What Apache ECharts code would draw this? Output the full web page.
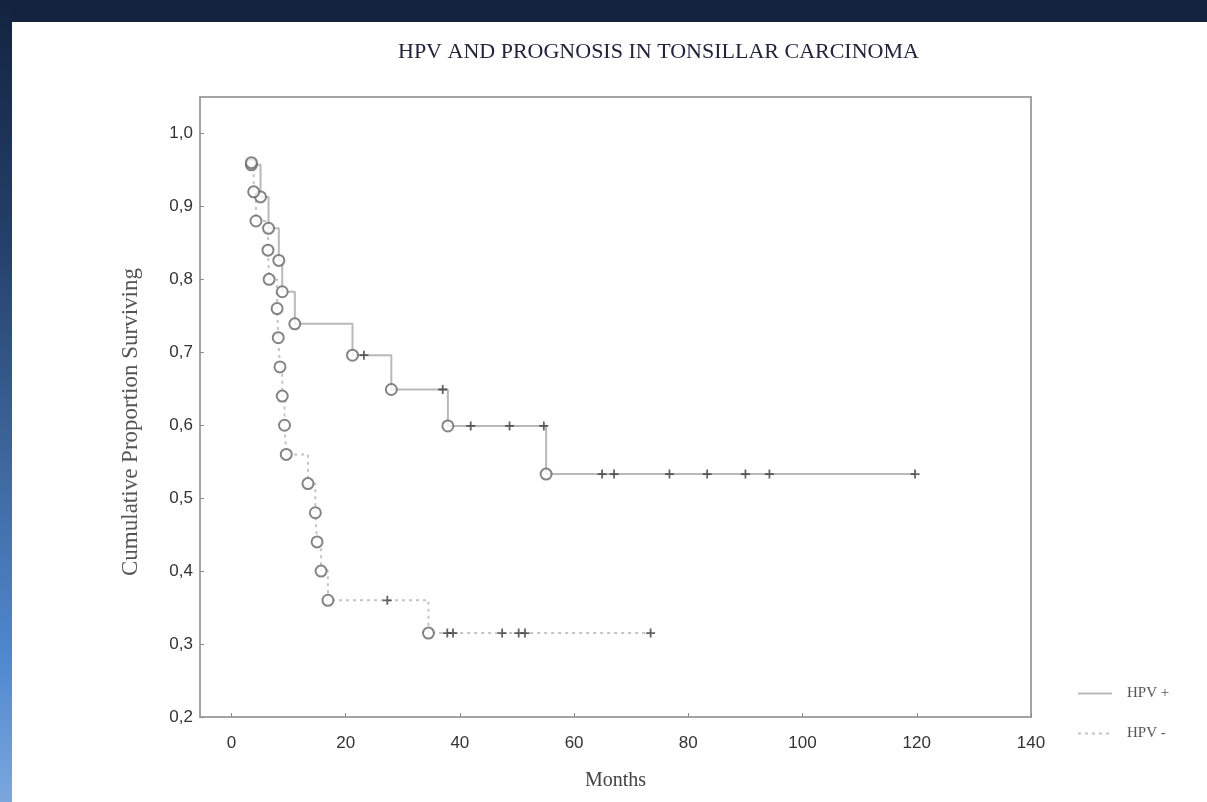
<!DOCTYPE html>
<html>
<head>
<meta charset="utf-8">
<title>HPV and prognosis in tonsillar carcinoma</title>
<script src="https://cdn.jsdelivr.net/npm/echarts@6/dist/echarts.min.js"></script>
<style>
  html, body { margin: 0; padding: 0; width: 1207px; height: 802px; overflow: hidden; background: #13233f; }
  #strip { position: absolute; left: 0; top: 0; width: 12px; height: 802px;
           background: linear-gradient(to bottom, #13233f 0%, #24406a 30%, #3c6398 55%, #4f88cf 82%, #7ba7de 100%); }
  #chart { position: absolute; left: 12px; top: 22px; width: 1195px; height: 780px; background: #ffffff; }
</style>
</head>
<body>
<div id="strip"></div>
<div id="chart"></div>
<script>
// Kaplan-Meier survival, HPV positive group: event times (months) and survival after each death
const hpvPosDeathTime = [3.5, 5.1, 6.5, 8.3, 8.9, 11.1, 21.2, 28.0, 37.9, 55.1];
const hpvPosDeathSurv = [0.957, 0.913, 0.870, 0.826, 0.783, 0.739, 0.696, 0.649, 0.599, 0.533];
// HPV positive censored observations (months)
const hpvPosCensorTime = [23.2, 37.0, 41.9, 48.7, 54.7, 64.9, 67.0, 76.7, 83.3, 90.0, 94.2, 119.7];

// HPV negative group
const hpvNegDeathTime = [3.5, 3.9, 4.3, 6.4, 6.6, 8.0, 8.2, 8.5, 8.9, 9.3, 9.6, 13.4, 14.7, 15.0, 15.7, 16.9, 34.5];
const hpvNegDeathSurv = [0.96, 0.92, 0.88, 0.84, 0.80, 0.76, 0.72, 0.68, 0.64, 0.60, 0.56, 0.52, 0.48, 0.44, 0.40, 0.36, 0.315];
const hpvNegCensorTime = [27.3, 37.8, 38.8, 47.4, 50.3, 51.4, 73.4];

// Axis ticks and their labels
const xTicks = [0, 20, 40, 60, 80, 100, 120, 140];
const xTickLabels = ['0', '20', '40', '60', '80', '100', '120', '140'];
const yTicks = [0.2, 0.3, 0.4, 0.5, 0.6, 0.7, 0.8, 0.9, 1.0];
const yTickLabels = ['0,2', '0,3', '0,4', '0,5', '0,6', '0,7', '0,8', '0,9', '1,0'];

const chartTitle = 'HPV AND PROGNOSIS IN TONSILLAR CARCINOMA';
const xName = 'Months';
const yName = 'Cumulative Proportion Surviving';
const groupNames = ['HPV +', 'HPV -'];

// survival level in force at time t (last death at or before t)
function survAt(times, surv, t) {
  let s = 1;
  for (let i = 0; i < times.length; i++) if (times[i] <= t) s = surv[i];
  return s;
}
function deathPoints(times, surv) {
  return times.map((t, i) => [t, surv[i]]);
}
function censorPoints(times, dTimes, dSurv) {
  return times.map(t => [t, survAt(dTimes, dSurv, t)]);
}
function stepPath(dTimes, dSurv, cTimes) {
  return deathPoints(dTimes, dSurv).concat(censorPoints(cTimes, dTimes, dSurv))
    .sort((a, b) => a[0] - b[0]);
}

const lineColor = '#b9b9b9';
const circleStyle = { color: '#ffffff', borderColor: '#666666', borderWidth: 2 };
const plusSymbol = 'path://M4,0h2v10h-2zM0,4h10v2h-10z';

function tickLabel(ticks, labels) {
  return function (v) {
    for (let i = 0; i < ticks.length; i++) if (Math.abs(ticks[i] - v) < 1e-6) return labels[i];
    return '';
  };
}

const chart = echarts.init(document.getElementById('chart'), null, { renderer: 'canvas' });
chart.setOption({
  backgroundColor: '#ffffff',
  animation: false,
  title: {
    text: chartTitle,
    left: 381, top: 14,
    textStyle: { fontFamily: 'Liberation Serif', fontSize: 22, fontWeight: 'normal', color: '#23233a' }
  },
  legend: {
    data: groupNames,
    orient: 'vertical',
    left: 1060, top: 659,
    itemWidth: 34, itemHeight: 14, itemGap: 25,
    itemStyle: { opacity: 0 },
    textStyle: { fontFamily: 'Liberation Serif', fontSize: 15, color: '#555555', padding: [0, 0, 0, 10] }
  },
  grid: {
    left: 188, top: 75, width: 831, height: 620,
    show: true, borderColor: '#a4a4a4', borderWidth: 2, backgroundColor: 'transparent'
  },
  xAxis: {
    type: 'value', min: -5.5, max: 140,
    name: xName, nameLocation: 'middle', nameGap: 54,
    nameTextStyle: { fontFamily: 'Liberation Serif', fontSize: 20, color: '#444444' },
    axisLine: { show: false, onZero: false },
    axisTick: { show: true, inside: true, length: 4, customValues: xTicks, lineStyle: { color: '#8c8c8c' } },
    axisLabel: { customValues: xTicks, formatter: tickLabel(xTicks, xTickLabels), margin: 18,
                 fontFamily: 'Liberation Sans', fontSize: 17, color: '#333333' },
    splitLine: { show: false }
  },
  yAxis: {
    type: 'value', min: 0.2, max: 1.05,
    name: yName, nameLocation: 'middle', nameGap: 58,
    nameTextStyle: { fontFamily: 'Liberation Serif', fontSize: 23, color: '#555555', padding: [0, 30, 0, 0] },
    axisLine: { show: false, onZero: false },
    axisTick: { show: true, inside: true, length: 4, customValues: yTicks, lineStyle: { color: '#8c8c8c' } },
    axisLabel: { customValues: yTicks, formatter: tickLabel(yTicks, yTickLabels), margin: 7,
                 fontFamily: 'Liberation Sans', fontSize: 17, color: '#333333' },
    splitLine: { show: false }
  },
  series: [
    {
      name: groupNames[0], type: 'line', step: 'end', symbol: 'none', z: 2,
      lineStyle: { color: lineColor, width: 2, type: 'solid' },
      itemStyle: { color: lineColor },
      data: stepPath(hpvPosDeathTime, hpvPosDeathSurv, hpvPosCensorTime)
    },
    {
      name: groupNames[1], type: 'line', step: 'end', symbol: 'none', z: 2,
      lineStyle: { color: '#c4c4c4', width: 2, type: [3, 4] },
      itemStyle: { color: '#c4c4c4' },
      data: stepPath(hpvNegDeathTime, hpvNegDeathSurv, hpvNegCensorTime)
    },
    {
      name: 'HPV + deaths', type: 'scatter', symbol: 'circle', symbolSize: 11, z: 4,
      itemStyle: circleStyle,
      data: deathPoints(hpvPosDeathTime, hpvPosDeathSurv)
    },
    {
      name: 'HPV - deaths', type: 'scatter', symbol: 'circle', symbolSize: 11, z: 4,
      itemStyle: circleStyle,
      data: deathPoints(hpvNegDeathTime, hpvNegDeathSurv)
    },
    {
      name: 'HPV + censored', type: 'scatter', symbol: plusSymbol, symbolSize: 9, z: 5,
      itemStyle: { color: '#3c3c3c' },
      data: censorPoints(hpvPosCensorTime, hpvPosDeathTime, hpvPosDeathSurv)
    },
    {
      name: 'HPV - censored', type: 'scatter', symbol: plusSymbol, symbolSize: 9, z: 5,
      itemStyle: { color: '#3c3c3c' },
      data: censorPoints(hpvNegCensorTime, hpvNegDeathTime, hpvNegDeathSurv)
    }
  ]
});
</script>
</body>
</html>
